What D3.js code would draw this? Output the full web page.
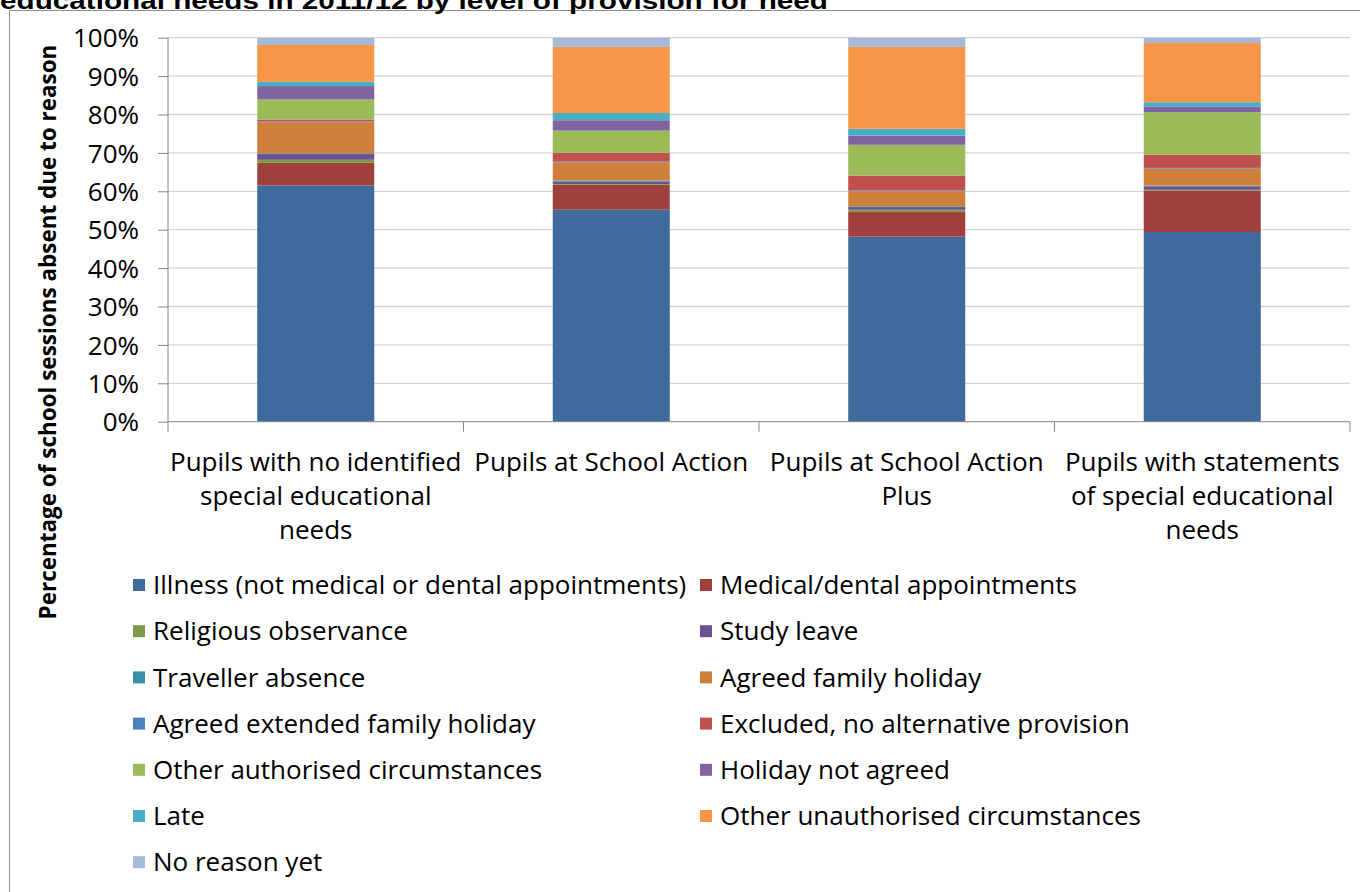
<!DOCTYPE html>
<html><head><meta charset="utf-8">
<script src="https://cdn.jsdelivr.net/npm/d3@7"></script>
<style>
html,body{margin:0;padding:0;background:#fff;}
svg{display:block;}
</style></head>
<body>
<svg id="chart" width="1360" height="892"></svg>
<script>
// ---- data ----
const titleText = "educational needs in 2011/12 by level of provision for need";
const yAxisTitle = "Percentage of school sessions absent due to reason";
const categories = ["No SEN", "School Action", "School Action Plus", "Statements"];
const categoryLabels = [
  ["Pupils with no identified", "special educational", "needs"],
  ["Pupils at School Action"],
  ["Pupils at School Action", "Plus"],
  ["Pupils with statements", "of special educational", "needs"]
];
const seriesNames = [
  "Illness (not medical or dental appointments)",
  "Medical/dental appointments",
  "Religious observance",
  "Study leave",
  "Traveller absence",
  "Agreed family holiday",
  "Agreed extended family holiday",
  "Excluded, no alternative provision",
  "Other authorised circumstances",
  "Holiday not agreed",
  "Late",
  "Other unauthorised circumstances",
  "No reason yet"
];
const seriesColors = ["#3f6a9c","#a0403d","#7f9a48","#6a5290","#3a8fa8","#d07f3a",
  "#4f81bd","#c0504d","#9bbb59","#8064a2","#4bacc6","#f79646","#a6b9d9"];
const illness        = [61.5, 55.2, 48.2, 49.4];
const medical        = [5.9, 6.5, 6.4, 10.8];
const religious      = [0.8, 0.2, 0.6, 0.2];
const studyLeave     = [1.5, 0.6, 0.7, 0.9];
const traveller      = [0.2, 0.3, 0.2, 0.2];
const agreedHoliday  = [8.1, 4.7, 3.9, 4.4];
const extendedHoliday= [0.2, 0.2, 0.2, 0.2];
const excluded       = [0.5, 2.3, 3.9, 3.4];
const otherAuth      = [5.2, 5.8, 8.0, 11.1];
const holidayNotAgreed=[3.5, 2.7, 2.4, 1.4];
const late           = [1.1, 1.9, 1.8, 1.2];
const otherUnauth    = [9.6, 17.2, 21.3, 15.4];
const noReason       = [1.9, 2.4, 2.4, 1.4];
const seriesValues = [illness, medical, religious, studyLeave, traveller, agreedHoliday,
  extendedHoliday, excluded, otherAuth, holidayNotAgreed, late, otherUnauth, noReason];
const yTicks = [0,10,20,30,40,50,60,70,80,90,100];

// ---- layout ----
const svg = d3.select("#chart");
const FONT = "'Open Sans', Lato, sans-serif";
const plot = {left:168, right:1350, top:37.7, bottom:421.7};

// fit font size so the longest legend entry spans ~535px as in the reference
function measure(txt, size, weight){
  const t = svg.append("text").attr("font-family",FONT).attr("font-size",size)
    .attr("font-weight",weight||"normal").text(txt);
  const w = t.node().getComputedTextLength(); t.remove(); return w;
}
const FS = Math.min(26, 100*535/measure(seriesNames[0],100));
const FSB = Math.min(26, 100*575/measure(yAxisTitle,100,"bold"));

// border
svg.append("rect").attr("x",9.5).attr("y",10.5).attr("width",1400).attr("height",1000)
  .attr("fill","none").attr("stroke","#8c8c8c").attr("stroke-width",1);

// title (clipped at top, as in the reference)
svg.append("text").attr("x",0).attr("y",9).text(titleText)
  .attr("font-family","'Liberation Sans', Arial, sans-serif").attr("font-weight","bold")
  .attr("font-size",23).attr("fill","#000")
  .attr("textLength",828).attr("lengthAdjust","spacingAndGlyphs");

const x = d3.scaleBand().domain(categories).range([plot.left, plot.right]).paddingInner(0.604).paddingOuter(0.302);
const y = d3.scaleLinear().domain([0,100]).range([plot.bottom, plot.top]);

// gridlines
svg.append("g").selectAll("line").data(yTicks.filter(d=>d>0)).join("line")
  .attr("x1",plot.left).attr("x2",plot.right)
  .attr("y1",d=>y(d)).attr("y2",d=>y(d))
  .attr("stroke","#d4d4d4").attr("stroke-width",1.3);

// stacked data
const table = categories.map((c,i)=>{
  const o = {cat:c};
  seriesNames.forEach((s,j)=>{ o[s] = seriesValues[j][i]; });
  return o;
});
const stacked = d3.stack().keys(seriesNames)(table);

svg.append("g").selectAll("g").data(stacked).join("g")
  .attr("fill",(d,i)=>seriesColors[i])
  .selectAll("rect").data(d=>d).join("rect")
  .attr("x",d=>x(d.data.cat))
  .attr("width",x.bandwidth())
  .attr("y",d=>y(d[1]))
  .attr("height",d=>y(d[0])-y(d[1]));

// y axis
const yAxis = d3.axisLeft(y).tickValues(yTicks).tickFormat(d=>d+"%").tickSize(10).tickPadding(19);
const gy = svg.append("g").attr("transform",`translate(${plot.left},0)`).call(yAxis);
gy.select(".domain").attr("stroke","#868686").attr("d",`M-0,${plot.top}V${plot.bottom+10}`);
gy.selectAll(".tick line").attr("stroke","#868686");
gy.selectAll(".tick text").attr("font-family",FONT).attr("font-size",FS).attr("fill","#000").attr("dy","0.35em");

// x axis line and category boundary ticks
svg.append("line").attr("x1",plot.left).attr("x2",plot.right).attr("y1",plot.bottom).attr("y2",plot.bottom)
  .attr("stroke","#868686");
const step = x.step();
svg.append("g").selectAll("line").data(categories).join("line")
  .attr("x1",(d,i)=>plot.left+step*(i+1)).attr("x2",(d,i)=>plot.left+step*(i+1))
  .attr("y1",plot.bottom).attr("y2",plot.bottom+10).attr("stroke","#868686");

// category labels
const catG = svg.append("g");
categories.forEach((c,i)=>{
  const cx = x(c)+x.bandwidth()/2;
  categoryLabels[i].forEach((line,k)=>{
    catG.append("text").attr("x",cx).attr("y",471+k*34).attr("text-anchor","middle")
      .attr("font-family",FONT).attr("font-size",FS).attr("fill","#000").text(line);
  });
});

// y axis title
svg.append("text").attr("transform","translate(56,332) rotate(-90)")
  .attr("text-anchor","middle").attr("font-family",FONT).attr("font-weight","bold")
  .attr("font-size",FSB).attr("fill","#000").text(yAxisTitle);

// legend
const leg = svg.append("g");
seriesNames.forEach((s,i)=>{
  const col = i%2, row = Math.floor(i/2);
  const lx = col===0 ? 133 : 700;
  const ly = 585 + row*46.2;
  leg.append("rect").attr("x",lx).attr("y",ly-6).attr("width",12).attr("height",12).attr("fill",seriesColors[i]);
  leg.append("text").attr("x",lx+20).attr("y",ly).attr("dy","0.35em")
    .attr("font-family",FONT).attr("font-size",FS).attr("fill","#000").text(s);
});
</script>
</body></html>
